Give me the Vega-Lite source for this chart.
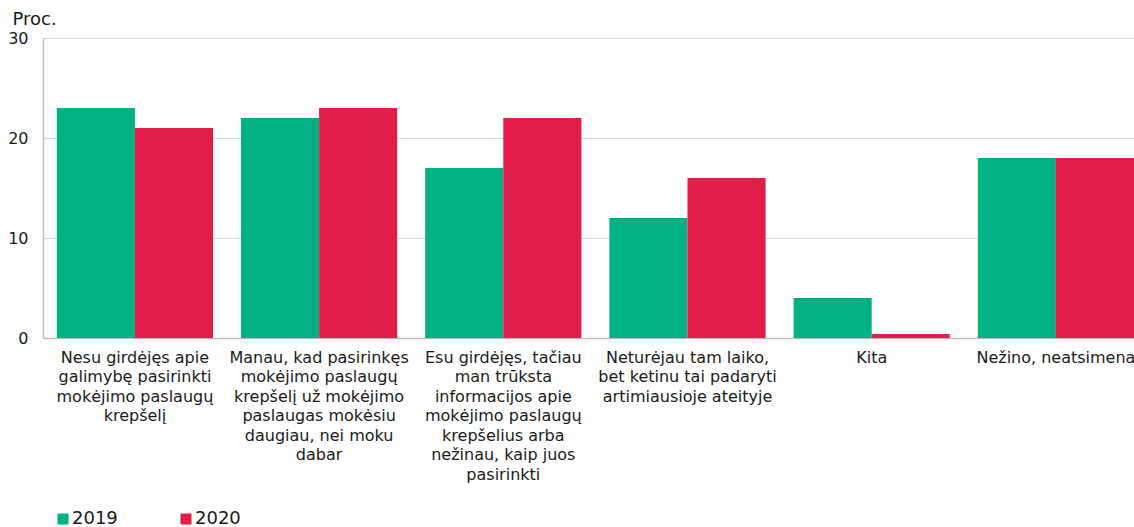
{
  "$schema": "https://vega.github.io/schema/vega-lite/v6.json",
  "autosize": {"type": "none"},
  "padding": {"left": 43, "top": 38, "right": 0, "bottom": 189},
  "width": 1091,
  "height": 300,
  "background": "white",
  "config": {
    "font": "DejaVu Sans",
    "view": {"stroke": null}
  },
  "data": {
    "values": [
      {"cat": "Nesu girdėjęs apie|galimybę pasirinkti|mokėjimo paslaugų|krepšelį", "year": "2019", "value": 23},
      {"cat": "Nesu girdėjęs apie|galimybę pasirinkti|mokėjimo paslaugų|krepšelį", "year": "2020", "value": 21},
      {"cat": "Manau, kad pasirinkęs|mokėjimo paslaugų|krepšelį už mokėjimo|paslaugas mokėsiu|daugiau, nei moku|dabar", "year": "2019", "value": 22},
      {"cat": "Manau, kad pasirinkęs|mokėjimo paslaugų|krepšelį už mokėjimo|paslaugas mokėsiu|daugiau, nei moku|dabar", "year": "2020", "value": 23},
      {"cat": "Esu girdėjęs, tačiau|man trūksta|informacijos apie|mokėjimo paslaugų|krepšelius arba|nežinau, kaip juos|pasirinkti", "year": "2019", "value": 17},
      {"cat": "Esu girdėjęs, tačiau|man trūksta|informacijos apie|mokėjimo paslaugų|krepšelius arba|nežinau, kaip juos|pasirinkti", "year": "2020", "value": 22},
      {"cat": "Neturėjau tam laiko,|bet ketinu tai padaryti|artimiausioje ateityje", "year": "2019", "value": 12},
      {"cat": "Neturėjau tam laiko,|bet ketinu tai padaryti|artimiausioje ateityje", "year": "2020", "value": 16},
      {"cat": "Kita", "year": "2019", "value": 4},
      {"cat": "Kita", "year": "2020", "value": 0.4},
      {"cat": "Nežino, neatsimena", "year": "2019", "value": 18},
      {"cat": "Nežino, neatsimena", "year": "2020", "value": 18}
    ]
  },
  "mark": {"type": "bar"},
  "encoding": {
    "x": {
      "field": "cat",
      "type": "nominal",
      "sort": null,
      "scale": {"paddingInner": 0.152, "paddingOuter": 0.0375, "align": 1},
      "axis": {
        "title": null,
        "labelAngle": 0,
        "labelExpr": "split(datum.label, '|')",
        "labelFontSize": 16,
        "labelLineHeight": 19.5,
        "labelColor": "#1a1a1a",
        "labelPadding": 11,
        "labelBaseline": "top",
        "labelLimit": 300,
        "ticks": false,
        "domainColor": "#bfbfbf",
        "domainWidth": 1.5
      }
    },
    "xOffset": {"field": "year", "type": "nominal"},
    "y": {
      "field": "value",
      "type": "quantitative",
      "scale": {"domain": [0, 30]},
      "axis": {
        "values": [0, 10, 20, 30],
        "title": "Proc.",
        "titleAngle": 0,
        "titleAlign": "left",
        "titleBaseline": "middle",
        "titleX": -31,
        "titleY": -19,
        "titleFontSize": 18,
        "titleFontWeight": "normal",
        "titleColor": "#1a1a1a",
        "labelFontSize": 16,
        "labelColor": "#1a1a1a",
        "labelPadding": 15,
        "ticks": false,
        "domainColor": "#bfbfbf",
        "domainWidth": 1.5,
        "gridColor": "#d9d9d9",
        "gridWidth": 1
      }
    },
    "color": {
      "field": "year",
      "type": "nominal",
      "scale": {"domain": ["2019", "2020"], "range": ["#00b183", "#e31d4a"]},
      "legend": {
        "title": null,
        "orient": "none",
        "legendX": 11,
        "legendY": 472,
        "direction": "horizontal",
        "symbolType": "square",
        "symbolSize": 121,
        "symbolStrokeWidth": 0,
        "labelFontSize": 18,
        "labelColor": "#1a1a1a",
        "labelOffset": 0,
        "columnPadding": 59
      }
    }
  }
}
